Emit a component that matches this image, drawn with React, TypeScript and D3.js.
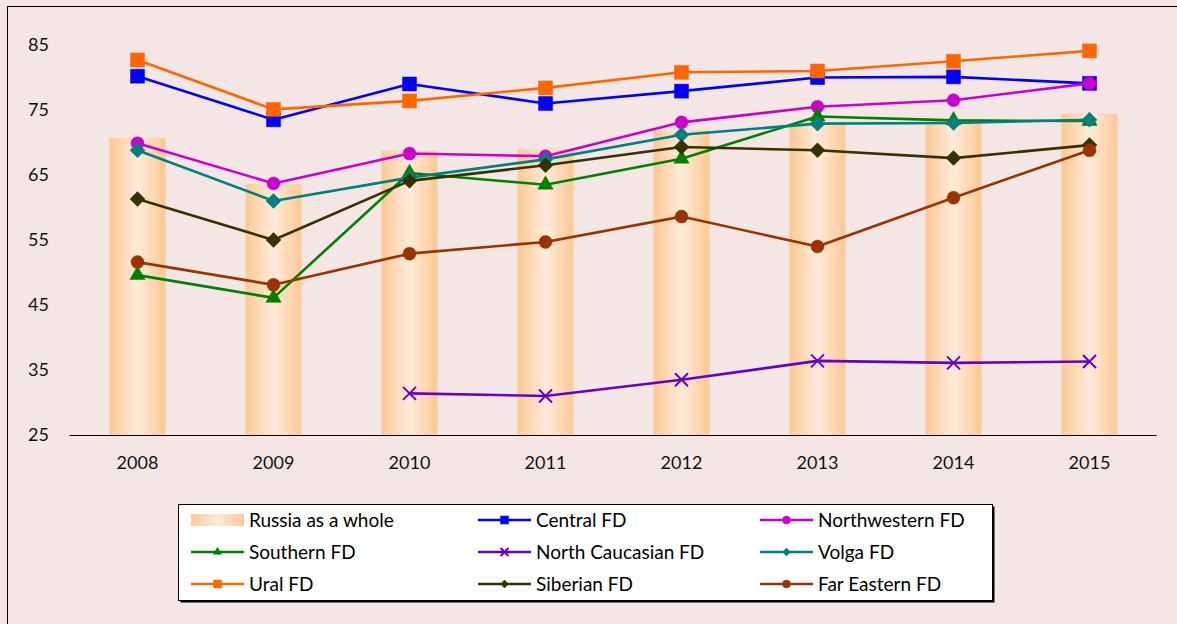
import React from "react";
import * as d3 from "d3";

const years = ["2008", "2009", "2010", "2011", "2012", "2013", "2014", "2015"];
const yTicks = [25, 35, 45, 55, 65, 75, 85];

const russia = [70.7, 63.6, 68.7, 68.9, 71.9, 73.0, 72.9, 74.4];
const central = [80.2, 73.5, 79.0, 76.0, 77.9, 80.0, 80.1, 79.1];
const northwestern = [69.9, 63.7, 68.3, 67.9, 73.1, 75.5, 76.5, 79.1];
const southern = [49.6, 46.1, 65.3, 63.5, 67.5, 74.0, 73.4, 73.3];
const northCaucasian: (number | null)[] = [null, null, 31.4, 31.0, 33.5, 36.4, 36.1, 36.3];
const volga = [68.8, 61.0, 64.6, 67.4, 71.2, 72.9, 73.0, 73.5];
const ural = [82.7, 75.1, 76.4, 78.4, 80.8, 81.0, 82.5, 84.1];
const siberian = [61.3, 55.0, 64.1, 66.5, 69.3, 68.8, 67.6, 69.6];
const farEastern = [51.6, 48.1, 52.9, 54.7, 58.6, 54.0, 61.5, 68.8];

type Marker = "square" | "circle" | "triangle" | "x" | "diamond";
interface Series {
  name: string;
  values: (number | null)[];
  color: string;
  marker: Marker;
}

const series: Series[] = [
  { name: "Central FD", values: central, color: "#0000FF", marker: "square" },
  { name: "Northwestern FD", values: northwestern, color: "#CC00CC", marker: "circle" },
  { name: "Southern FD", values: southern, color: "#008000", marker: "triangle" },
  { name: "North Caucasian FD", values: northCaucasian, color: "#6600CC", marker: "x" },
  { name: "Volga FD", values: volga, color: "#008080", marker: "diamond" },
  { name: "Ural FD", values: ural, color: "#FF6600", marker: "square" },
  { name: "Siberian FD", values: siberian, color: "#333300", marker: "diamond" },
  { name: "Far Eastern FD", values: farEastern, color: "#993300", marker: "circle" },
];

const W = 1177;
const H = 624;
const FONT = "Lato, 'Open Sans', sans-serif";

const x = d3.scaleBand<string>().domain(years).range([69.5, 1157.5]).padding(0);
const y = d3.scaleLinear().domain([25, 85]).range([435, 45]);
const barW = x.bandwidth() * 0.41;
const cx = (yr: string) => (x(yr) as number) + x.bandwidth() / 2;

function markerPath(m: Marker, s: number): string {
  switch (m) {
    case "square":
      return d3.symbol(d3.symbolSquare, s * s)() as string;
    case "circle":
      return d3.symbol(d3.symbolCircle, Math.PI * (s / 2) * (s / 2))() as string;
    case "triangle":
      return d3.symbol(d3.symbolTriangle, (Math.sqrt(3) / 4) * s * s * 1.05)() as string;
    case "diamond": {
      const r = s / 2;
      const p = d3.path();
      p.moveTo(0, -r);
      p.lineTo(r, 0);
      p.lineTo(0, r);
      p.lineTo(-r, 0);
      p.closePath();
      return p.toString();
    }
    case "x": {
      const r = s / 2;
      const p = d3.path();
      p.moveTo(-r, -r);
      p.lineTo(r, r);
      p.moveTo(-r, r);
      p.lineTo(r, -r);
      return p.toString();
    }
  }
}

function MarkerShape({ m, color, size, tx, ty }: { m: Marker; color: string; size: number; tx: number; ty: number }) {
  const d = markerPath(m, size);
  if (m === "x") {
    return <path d={d} transform={`translate(${tx},${ty})`} fill="none" stroke={color} strokeWidth={2} />;
  }
  return <path d={d} transform={`translate(${tx},${ty})`} fill={color} stroke={color} strokeWidth={0.5} />;
}

const markerSize: Record<Marker, number> = {
  square: 14,
  circle: 13,
  triangle: 15,
  diamond: 15,
  x: 13,
};

const legendItems = [
  { name: "Russia as a whole", bar: true, color: "", marker: "square" as Marker },
  ...series.map((s) => ({ name: s.name, bar: false, color: s.color, marker: s.marker })),
];
const legendColX = [191, 478, 760];
const legendRowY = [520, 552, 584];

export default function App() {
  const line = d3
    .line<{ yr: string; v: number | null }>()
    .defined((d) => d.v !== null)
    .x((d) => cx(d.yr))
    .y((d) => y(d.v as number));

  return (
    <svg
      width={W}
      height={H}
      style={{ position: "fixed", left: 0, top: 0, display: "block" }}
      fontFamily={FONT}
    >
      <defs>
        <linearGradient id="barGrad" x1="0" x2="1" y1="0" y2="0">
          <stop offset="0%" stopColor="#FDC894" />
          <stop offset="50%" stopColor="#FEEBDA" />
          <stop offset="100%" stopColor="#FDC894" />
        </linearGradient>
      </defs>
      <rect x={0} y={0} width={W} height={H} fill="#F5E6E6" />
      <rect x={7.5} y={6.5} width={W + 20} height={H + 20} fill="#F5E6E6" stroke="#000" strokeWidth={1} />

      {/* bars */}
      {years.map((yr, i) => (
        <rect
          key={yr}
          x={cx(yr) - barW / 2}
          y={y(russia[i])}
          width={barW}
          height={y(25) - y(russia[i])}
          fill="url(#barGrad)"
          stroke="#FDD3AA"
          strokeWidth={0.6}
        />
      ))}

      {/* x axis line */}
      <line x1={69.5} x2={1156.5} y1={y(25) + 0.5} y2={y(25) + 0.5} stroke="#000" strokeWidth={1.2} />

      {/* y tick labels */}
      {yTicks.map((t) => (
        <text key={t} x={49} y={y(t)} dy="0.35em" textAnchor="end" fontSize={18} fill="#111">
          {t}
        </text>
      ))}
      {/* x tick labels */}
      {years.map((yr) => (
        <text key={yr} x={cx(yr)} y={469} textAnchor="middle" fontSize={18} fill="#111">
          {yr}
        </text>
      ))}

      {/* series */}
      {series.map((s) => {
        const pts = years.map((yr, i) => ({ yr, v: s.values[i] }));
        return (
          <g key={s.name}>
            <path d={line(pts) as string} fill="none" stroke={s.color} strokeWidth={2.6} strokeLinejoin="round" />
            {pts
              .filter((p) => p.v !== null)
              .map((p) => (
                <MarkerShape
                  key={p.yr}
                  m={s.marker}
                  color={s.color}
                  size={markerSize[s.marker]}
                  tx={cx(p.yr)}
                  ty={y(p.v as number)}
                />
              ))}
          </g>
        );
      })}

      {/* legend */}
      <rect x={180.5} y={506.5} width={814} height={96} fill="#000" />
      <rect x={178.5} y={504.5} width={814} height={96} fill="#fff" stroke="#000" strokeWidth={1} />
      {legendItems.map((it, i) => {
        const col = i % 3;
        const row = Math.floor(i / 3);
        const lx = legendColX[col];
        const ly = legendRowY[row];
        return (
          <g key={it.name}>
            {it.bar ? (
              <rect x={lx} y={ly - 6} width={53} height={12} fill="url(#barGrad)" />
            ) : (
              <g>
                <line x1={lx} x2={lx + 53} y1={ly} y2={ly} stroke={it.color} strokeWidth={2.4} />
                <MarkerShape m={it.marker} color={it.color} size={it.marker === "x" ? 8 : 8} tx={lx + 26.5} ty={ly} />
              </g>
            )}
            <text x={lx + 58} y={ly} dy="0.35em" fontSize={19} fill="#000">
              {it.name}
            </text>
          </g>
        );
      })}
    </svg>
  );
}
